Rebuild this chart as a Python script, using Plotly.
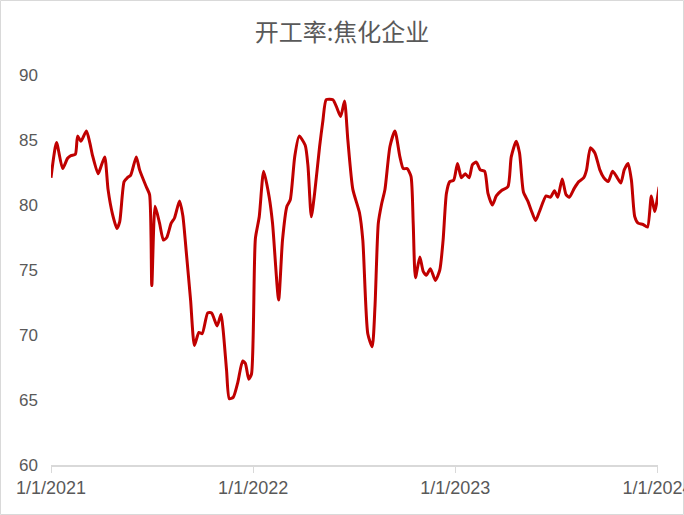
import plotly.graph_objects as go

dates = [
    "2021-01-01", "2021-01-11", "2021-01-22", "2021-01-31", "2021-02-06", "2021-02-14", "2021-02-18",
    "2021-02-24", "2021-03-06", "2021-03-12", "2021-03-17", "2021-03-27", "2021-03-31", "2021-04-08",
    "2021-04-14", "2021-04-22", "2021-04-30", "2021-05-05", "2021-05-13", "2021-05-19", "2021-05-25",
    "2021-06-04", "2021-06-10", "2021-06-22", "2021-06-28", "2021-07-02", "2021-07-08", "2021-07-16",
    "2021-07-23", "2021-07-29", "2021-08-06", "2021-08-12", "2021-08-21", "2021-08-27", "2021-09-02",
    "2021-09-10", "2021-09-17", "2021-09-25", "2021-10-01", "2021-10-11", "2021-10-18", "2021-10-28",
    "2021-11-04", "2021-11-08", "2021-11-14", "2021-11-19", "2021-11-26", "2021-12-04", "2021-12-13",
    "2021-12-18", "2021-12-24", "2021-12-29",
    "2022-01-05", "2022-01-12", "2022-01-20", "2022-01-30", "2022-02-05", "2022-02-16", "2022-02-23",
    "2022-03-03", "2022-03-09", "2022-03-17", "2022-03-25", "2022-04-05", "2022-04-10", "2022-04-16",
    "2022-04-22", "2022-05-01", "2022-05-07", "2022-05-13", "2022-05-25", "2022-05-31", "2022-06-08",
    "2022-06-15", "2022-06-21", "2022-06-30", "2022-07-12", "2022-07-18", "2022-07-27", "2022-08-04",
    "2022-08-09", "2022-08-15", "2022-08-21", "2022-08-27", "2022-09-05", "2022-09-14", "2022-09-23",
    "2022-09-29", "2022-10-06", "2022-10-13", "2022-10-17", "2022-10-21", "2022-10-29", "2022-11-04",
    "2022-11-10", "2022-11-17", "2022-11-26", "2022-12-04", "2022-12-10", "2022-12-16", "2022-12-22",
    "2022-12-29",
    "2023-01-05", "2023-01-12", "2023-01-19", "2023-01-26", "2023-02-01", "2023-02-08", "2023-02-15",
    "2023-02-23", "2023-03-01", "2023-03-09", "2023-03-16", "2023-03-25", "2023-04-06", "2023-04-12",
    "2023-04-21", "2023-04-27", "2023-05-04", "2023-05-12", "2023-05-18", "2023-05-26", "2023-06-02",
    "2023-06-14", "2023-06-22", "2023-06-29", "2023-07-05", "2023-07-13", "2023-07-20", "2023-07-26",
    "2023-08-04", "2023-08-12", "2023-08-21", "2023-08-26", "2023-09-02", "2023-09-10", "2023-09-19",
    "2023-09-26", "2023-10-04", "2023-10-12", "2023-10-19", "2023-10-27", "2023-11-02", "2023-11-09",
    "2023-11-15", "2023-11-21", "2023-11-27", "2023-12-06", "2023-12-14", "2023-12-21", "2023-12-27",
    "2024-01-04",
]

rates = [
    82.1, 84.8, 82.8, 83.6, 83.8, 83.9, 85.3,
    84.9, 85.7, 84.8, 83.8, 82.4, 82.8, 83.7,
    81.2, 79.3, 78.2, 78.7, 81.8, 82.1, 82.3,
    83.7, 82.7, 81.4, 80.8, 73.8, 79.9, 78.6,
    77.3, 77.5, 78.6, 79.0, 80.3, 79.2, 76.5,
    72.7, 69.2, 70.2, 70.1, 71.7, 71.7, 70.7,
    71.6, 70.3, 67.3, 65.1, 65.2, 66.3, 68.0,
    67.8, 66.6, 67.0,
    77.4, 79.1, 82.6, 80.6, 78.6, 72.7, 77.3,
    79.9, 80.4, 83.7, 85.3, 84.6, 83.0, 79.1,
    80.9, 84.5, 86.5, 88.1, 88.1, 87.6, 86.8,
    88.0, 85.0, 81.2, 79.4, 77.3, 70.1, 69.1,
    72.2, 78.6, 80.1, 81.2, 84.5, 85.7, 83.7,
    82.8, 82.8, 82.2, 78.6, 74.4, 76.0, 74.9,
    74.6, 75.1, 74.2, 75.0, 77.3, 80.9, 81.8,
    81.9,
    83.2, 82.1, 82.4, 82.1, 83.1, 83.3, 82.7,
    82.6, 80.9, 80.0, 80.7, 81.1, 81.4, 83.7,
    84.9, 84.0, 81.0, 80.3, 79.6, 78.8, 79.5,
    80.7, 80.6, 81.1, 80.6, 82.0, 80.8, 80.6,
    81.3, 81.8, 82.1, 82.7, 84.4, 84.0, 82.7,
    82.1, 81.8, 82.6, 82.2, 81.7, 82.7, 83.2,
    81.9, 79.1, 78.6, 78.5, 78.3, 80.7, 79.5,
    81.4,
]

x_ticks = ["2021-01-01", "2022-01-01", "2023-01-01", "2024-01-01"]
x_tick_labels = ["1/1/2021", "1/1/2022", "1/1/2023", "1/1/2024"]
y_ticks = [60, 65, 70, 75, 80, 85, 90]

title_text = "开工率:焦化企业"

W, H = 684, 515
ml, mr, mt, mb = 51, 26, 75, 50

fig = go.Figure()
fig.add_trace(go.Scatter(
    x=dates, y=rates, mode="lines",
    line=dict(color="#c00000", width=3, shape="spline", smoothing=0.6),
    cliponaxis=False, hoverinfo="x+y", showlegend=False,
))

pw = W - ml - mr
ph = H - mt - mb
fig.add_shape(type="rect", xref="paper", yref="paper",
              x0=(-ml + 0.5) / pw, x1=(W - ml - 0.5) / pw,
              y0=(-mb + 0.5) / ph, y1=(H - mb - 0.5) / ph,
              line=dict(color="#d9d9d9", width=1), layer="below")

fig.update_layout(
    width=W, height=H,
    margin=dict(l=ml, r=mr, t=mt, b=mb, autoexpand=False),
    paper_bgcolor="white", plot_bgcolor="white",
    title=dict(text=title_text, x=0.5, xref="container", xanchor="center",
               y=1 - 33 / H, yref="container", yanchor="middle",
               font=dict(family="Noto Sans CJK SC", size=24, color="#595959")),
    font=dict(family="Liberation Sans", color="#595959", size=16),
    xaxis=dict(
        type="date", range=["2021-01-01", "2024-01-02"],
        tickvals=x_ticks, ticktext=x_tick_labels,
        showgrid=False, zeroline=False, automargin=False,
        ticklabeloverflow="allow",
        showline=True, linecolor="#d9d9d9", linewidth=1.5,
        ticks="outside", ticklen=6, tickcolor="#d9d9d9", tickwidth=1,
        tickfont=dict(size=18, color="#595959"),
    ),
    yaxis=dict(
        range=[60, 90], tickvals=y_ticks, automargin=False,
        showgrid=False, zeroline=False, showline=False,
        ticks="", ticklabelstandoff=12,
        tickfont=dict(size=17, color="#595959"),
    ),
)

fig.write_html("out.html", config={"displayModeBar": False},
               post_script="document.body.style.margin='0';document.body.style.overflow='hidden';")
